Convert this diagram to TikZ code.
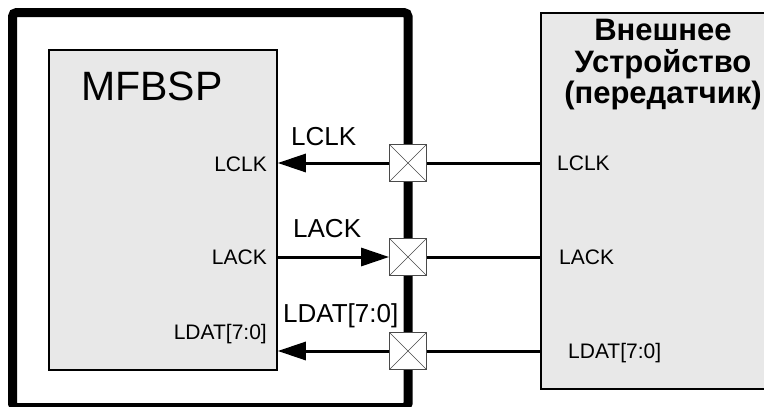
\documentclass[tikz,border=0pt]{standalone}
\usepackage{fontspec}
\setmainfont{Liberation Sans}
\usetikzlibrary{arrows.meta,positioning,calc}
\definecolor{BlockGray}{HTML}{E8E8E8}
\definecolor{PadEdge}{HTML}{4A4A4A}
\newcommand{\padbox}[2]{%
  \node[draw=PadEdge,fill=white,line width=0.8pt,minimum size=37pt,inner sep=0pt,
        path picture={\draw[line width=0.6pt]
          (path picture bounding box.north west) -- (path picture bounding box.south east)
          (path picture bounding box.south west) -- (path picture bounding box.north east);}]
        (#1) at (408,#2) {};}

\begin{document}
\begin{tikzpicture}[x=1pt,y=-1pt,>={Triangle[length=28pt,width=18pt]},
    block/.style={draw,line width=1.5pt,fill=BlockGray,inner sep=0pt},
    pinlabel/.style={inner sep=0pt,font=\fontsize{21}{24}\selectfont},
    wirelabel/.style={inner sep=0pt,font=\fontsize{26}{30}\selectfont},
    wire/.style={line width=3pt}]
  \useasboundingbox (0,0) rectangle (764,407);
  % chip boundary
  \draw[line width=9pt,rounded corners=4pt] (12.5,12.5) rectangle (408,407.5);
  % blocks
  \node[block,minimum width=228pt,minimum height=320pt] (mfbsp) at (163,210) {};
  \node[inner sep=0pt,anchor=base west,font=\fontsize{41}{46}\selectfont] (mfbsptitle) at (81,100) {MFBSP};
  \node[block,minimum width=230pt,minimum height=376pt,anchor=north west] (extdev) at (540,12) {};
  \node[inner sep=0pt,anchor=north,align=center,font=\bfseries\fontsize{31}{31.5}\selectfont] (extname)
    at (663,19) {Внешнее\\Устройство\\(передатчик)};
  % pads on the boundary
  \padbox{clkpad}{163}
  \padbox{ackpad}{257}
  \padbox{datpad}{351}
  % signals
  \draw[->,wire] (clkpad) -- (mfbsp.east |- clkpad);
  \draw[->,wire] (mfbsp.east |- ackpad) -- (ackpad);
  \draw[->,wire] (datpad) -- (mfbsp.east |- datpad);
  \draw[wire] (clkpad) -- (extdev.west |- clkpad);
  \draw[wire] (ackpad) -- (extdev.west |- ackpad);
  \draw[wire] (datpad) -- (extdev.west |- datpad);
  % labels
  \node[pinlabel,anchor=base east] (mclk) at (267,171) {LCLK};
  \node[pinlabel,anchor=base east] (mack) at (267,264) {LACK};
  \node[pinlabel,anchor=base east] (mdat) at (267,339) {LDAT[7:0]};
  \node[wirelabel,anchor=base west] (wclk) at (291,145) {LCLK};
  \node[wirelabel,anchor=base west] (wack) at (293,237) {LACK};
  \node[wirelabel,anchor=base west] (wdat) at (283,322) {LDAT[7:0]};
  \node[pinlabel,anchor=base west] (eclk) at (557,170) {LCLK};
  \node[pinlabel,anchor=base west] (eack) at (559,264) {LACK};
  \node[pinlabel,anchor=base west] (edat) at (568,358) {LDAT[7:0]};
\end{tikzpicture}
\end{document}
